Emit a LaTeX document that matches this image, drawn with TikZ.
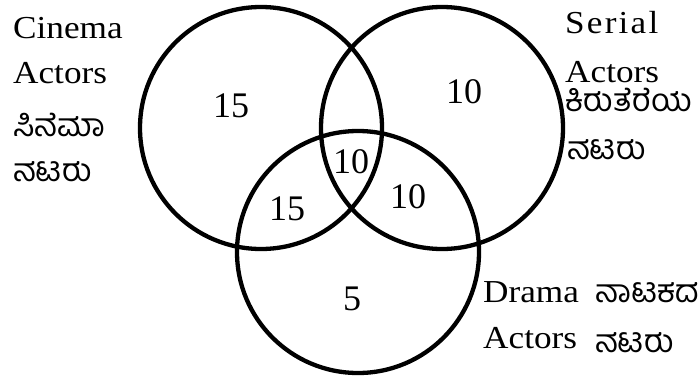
\documentclass[tikz,border=0pt]{standalone}
\usepackage{fontspec}
\setmainfont[FakeStretch=1.1]{Liberation Serif}
\newfontfamily\numfont{Liberation Serif}
\newfontfamily\kan[Script=Kannada]{Hind Mysuru}
\begin{document}
\begin{tikzpicture}[x=1pt,y=-1pt,
  venn/.style={circle,draw,line width=4.3pt,minimum size=242pt,inner sep=0pt},
  num/.style={font=\numfont\fontsize{36}{36}\selectfont,inner sep=0pt},
  lab/.style={font=\fontsize{32}{32}\selectfont,anchor=base west,inner sep=0pt},
  klab/.style={font=\kan\fontsize{32}{32}\selectfont,anchor=base west,inner sep=0pt}]
\useasboundingbox (0,0) rectangle (698,380);
\node[venn] (cin) at (261,128) {};
\node[venn] (ser) at (442,128) {};
\node[venn] (dra) at (358,252) {};
\node[num] (n1) at (231,106) {15};
\node[num] (n2) at (464,92) {10};
\node[num] (n3) at (351,162) {10};
\node[num] (n4) at (287,209) {15};
\node[num] (n5) at (408,197) {10};
\node[num] (n6) at (352,299) {5};
\node[lab] (c1) at (13,38) {Cinema};
\node[lab] (c2) at (13,83) {Actors};
\node[klab] (c3) at (13,136) {ಸಿನೆಮಾ};
\node[klab] (c4) at (13,181) {ನಟರು};
\node[lab] (s1) at (565,33) {S\kern2.2pt e\kern2.2pt r\kern2.2pt i\kern2.2pt a\kern2.2pt l};
\node[lab] (s2) at (565,82) {Actors};
\node[klab] (s3) at (565,111) {ಕಿರುತೆರೆಯ};
\node[klab] (s4) at (567,159) {ನಟರು};
\node[lab] (d1) at (483,302) {Drama};
\node[lab] (d2) at (483,348) {Actors};
\node[klab] (d3) at (595,302) {ನಾಟಕದ};
\node[klab] (d4) at (595,352) {ನಟರು};
\end{tikzpicture}
\end{document}
